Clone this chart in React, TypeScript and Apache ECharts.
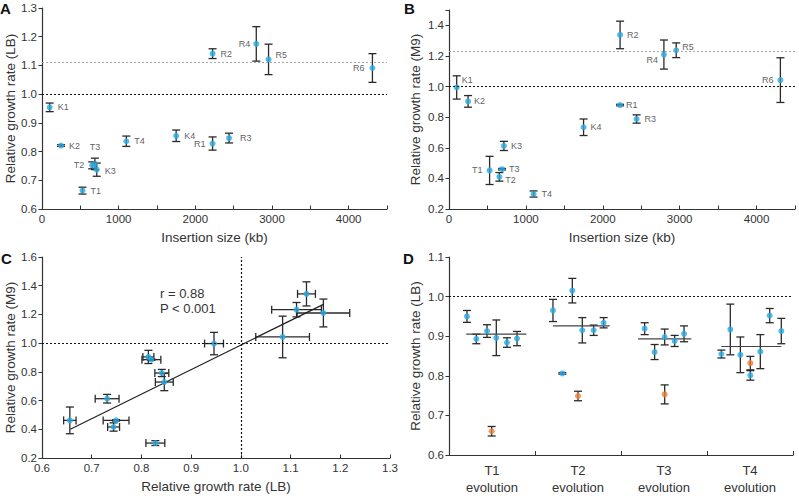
import React, { useEffect, useRef } from "react";
import * as echarts from "echarts";

// ---------- Panel A / B data ----------
const strains = ["K1", "K2", "K3", "K4", "T1", "T2", "T3", "T4", "R1", "R2", "R3", "R4", "R5", "R6"];
const insertionKb = [100, 248, 714, 1750, 528, 655, 690, 1100, 2225, 2225, 2440, 2795, 2955, 4310];
const lbRate = [0.954, 0.821, 0.737, 0.855, 0.664, 0.752, 0.757, 0.836, 0.828, 1.141, 0.847, 1.175, 1.121, 1.091];
const lbErr = [0.015, 0.003, 0.023, 0.02, 0.012, 0.012, 0.02, 0.018, 0.023, 0.017, 0.017, 0.06, 0.053, 0.05];
const m9Rate = [0.994, 0.903, 0.612, 0.734, 0.452, 0.41, 0.46, 0.298, 0.879, 1.337, 0.788, 1.209, 1.237, 1.042];
const m9Err = [0.076, 0.038, 0.03, 0.054, 0.092, 0.028, 0.005, 0.02, 0.005, 0.09, 0.027, 0.095, 0.048, 0.146];
const lbReference = 1.115;
const m9Reference = 1.226;

// ---------- Panel C data ----------
const cLB = [0.656, 0.731, 0.749, 0.744, 0.828, 0.814, 0.82, 0.841, 0.846, 0.946, 1.084, 1.112, 1.132, 1.166];
const cLBErr = [0.0125, 0.024, 0.026, 0.012, 0.019, 0.011, 0.019, 0.014, 0.018, 0.019, 0.054, 0.05, 0.018, 0.053];
const cM9 = [0.462, 0.613, 0.462, 0.416, 0.304, 0.904, 0.885, 0.792, 0.729, 0.997, 1.043, 1.233, 1.343, 1.21];
const cM9Err = [0.093, 0.03, 0.005, 0.029, 0.017, 0.046, 0.005, 0.025, 0.06, 0.078, 0.145, 0.05, 0.084, 0.097];
const fitX = [0.657, 1.167];
const fitY = [0.4, 1.272];
const corrText = ["r = 0.88", "P < 0.001"];

// ---------- Panel D data ----------
const dCategories = ["T1\nevolution", "T2\nevolution", "T3\nevolution", "T4\nevolution"];
const dBlueX = [0.209, 0.318, 0.442, 0.55, 0.674, 0.791, 1.209, 1.318, 1.434, 1.55, 1.682, 1.798, 2.275, 2.391, 2.508, 2.624, 2.733, 3.167, 3.271, 3.388, 3.504, 3.62, 3.729, 3.864];
const dBlueY = [0.95, 0.893, 0.913, 0.896, 0.884, 0.894, 0.965, 0.806, 1.015, 0.915, 0.915, 0.934, 0.919, 0.86, 0.898, 0.888, 0.906, 0.855, 0.917, 0.853, 0.801, 0.861, 0.952, 0.913];
const dBlueErr = [0.015, 0.012, 0.016, 0.045, 0.012, 0.018, 0.028, 0.002, 0.031, 0.032, 0.013, 0.013, 0.015, 0.019, 0.02, 0.014, 0.02, 0.01, 0.064, 0.045, 0.012, 0.043, 0.018, 0.032];
const dOrangeX = [0.496, 1.5, 2.508, 3.504];
const dOrangeY = [0.66, 0.749, 0.753, 0.832];
const dOrangeErr = [0.012, 0.012, 0.024, 0.017];
const dMeanStart = [0.2, 1.209, 2.198, 3.167];
const dMeanEnd = [0.9, 1.868, 2.818, 3.864];
const dMean = [0.905, 0.926, 0.893, 0.874];

// label placement (position, distance, dx, dy)
const labelPlaceA: Record<string, [string, number, number, number]> = {
  K1: ["right", 5, 0, 0], K2: ["right", 5, 0, 0], K3: ["right", 5, 0, 1], K4: ["right", 5, 0, 0],
  T1: ["right", 5, 0, 0], T2: ["left", 5, 0, 0], T3: ["top", 9, 0, 0], T4: ["right", 5, 0, 0],
  R1: ["left", 4, 0, 0], R2: ["right", 5, 0, 0], R3: ["right", 8, 0, 0], R4: ["left", 3, 0, 0],
  R5: ["right", 4, 0, -4], R6: ["left", 5, 0, 0],
};
const labelPlaceB: Record<string, [string, number, number, number]> = {
  K1: ["right", 2, 0, -7], K2: ["right", 3, 0, 0], K3: ["right", 4, 0, 0], K4: ["right", 4, 0, 0],
  T1: ["left", 4, 0, 0], T2: ["right", 3, 0, 3], T3: ["right", 4, 0, 0], T4: ["right", 5, 0, 0],
  R1: ["right", 3, 0, 0], R2: ["right", 4, 0, 0], R3: ["right", 5, 0, 0], R4: ["left", 3, 0, 5],
  R5: ["right", 3, 0, -3], R6: ["left", 4, 0, 0],
};

const BLUE = "#29a9e1";
const ORANGE = "#ef7d2c";
const BAR = "#2a2a2a";
const AXIS = "#333333";
const TEXT = "#333333";
const FONT = "'Liberation Sans', Arial, sans-serif";

function vErrRender(params: any, api: any) {
  const x = api.value(0);
  const a = api.coord([x, api.value(2)]);
  const b = api.coord([x, api.value(3)]);
  const c = 4;
  const st = { stroke: BAR, lineWidth: 1.3 };
  return {
    type: "group",
    children: [
      { type: "line", shape: { x1: a[0], y1: a[1], x2: b[0], y2: b[1] }, style: st },
      { type: "line", shape: { x1: a[0] - c, y1: a[1], x2: a[0] + c, y2: a[1] }, style: st },
      { type: "line", shape: { x1: b[0] - c, y1: b[1], x2: b[0] + c, y2: b[1] }, style: st },
    ],
  };
}

function xyErrRender(params: any, api: any) {
  const x = api.value(0);
  const y = api.value(1);
  const a = api.coord([x, api.value(4)]);
  const b = api.coord([x, api.value(5)]);
  const l = api.coord([api.value(2), y]);
  const r = api.coord([api.value(3), y]);
  const c = 4;
  const st = { stroke: BAR, lineWidth: 1.3 };
  return {
    type: "group",
    children: [
      { type: "line", shape: { x1: a[0], y1: a[1], x2: b[0], y2: b[1] }, style: st },
      { type: "line", shape: { x1: a[0] - c, y1: a[1], x2: a[0] + c, y2: a[1] }, style: st },
      { type: "line", shape: { x1: b[0] - c, y1: b[1], x2: b[0] + c, y2: b[1] }, style: st },
      { type: "line", shape: { x1: l[0], y1: l[1], x2: r[0], y2: r[1] }, style: st },
      { type: "line", shape: { x1: l[0], y1: l[1] - c, x2: l[0], y2: l[1] + c }, style: st },
      { type: "line", shape: { x1: r[0], y1: r[1] - c, x2: r[0], y2: r[1] + c }, style: st },
    ],
  };
}

function meanRender(params: any, api: any) {
  const y = api.value(2);
  const a = api.coord([api.value(0), y]);
  const b = api.coord([api.value(1), y]);
  return {
    type: "line",
    shape: { x1: a[0], y1: a[1], x2: b[0], y2: b[1] },
    style: { stroke: "#444", lineWidth: 1.2 },
  };
}

function valueAxis(gridIndex: number, min: number, max: number, interval: number, name: string, nameGap: number, fmt: (v: number) => string, isY: boolean) {
  return {
    type: "value",
    gridIndex,
    min,
    max,
    interval,
    name,
    nameLocation: "middle",
    nameGap,
    nameTextStyle: { fontSize: 13.5, color: TEXT, fontFamily: FONT },
    splitLine: { show: false },
    axisLine: { show: true, onZero: false, lineStyle: { color: AXIS, width: 1.2 } },
    axisTick: { show: true, inside: !isY, length: 3.5, lineStyle: { color: AXIS, width: 1 } },
    axisLabel: { fontSize: 11.5, color: TEXT, fontFamily: FONT, margin: isY ? 5 : 4, formatter: fmt },
  };
}

const fmt1 = (v: number) => v.toFixed(1);

export default function App() {
  const ref = useRef<HTMLDivElement>(null);
  useEffect(() => {
    if (!ref.current) return;
    const chart = echarts.init(ref.current, undefined, { renderer: "svg" });

    const pointLabel = (place: Record<string, [string, number, number, number]>, n: string) => ({
      show: true,
      formatter: "{b}",
      position: place[n][0],
      distance: place[n][1],
      offset: [place[n][2], place[n][3]],
      fontSize: 9,
      color: TEXT,
      fontFamily: FONT,
    });

    const refLines = (vals: any[]) => ({
      silent: true,
      symbol: ["none", "none"],
      label: { show: false },
      data: vals,
    });

    const option: any = {
      animation: false,
      textStyle: { fontFamily: FONT },
      grid: [
        { left: 42, top: 8, width: 345, height: 201 },
        { left: 449, top: 10, width: 346, height: 199 },
        { left: 42, top: 257, width: 348, height: 201 },
        { left: 449, top: 257, width: 344, height: 201 },
      ],
      xAxis: [
        valueAxis(0, 0, 4500, 500, "Insertion size (kb)", 21, (v) => (v % 1000 === 0 ? String(v) : ""), false),
        valueAxis(1, 0, 4500, 500, "Insertion size (kb)", 21, (v) => (v % 1000 === 0 ? String(v) : ""), false),
        valueAxis(2, 0.6, 1.3, 0.1, "Relative growth rate (LB)", 21, fmt1, false),
        {
          type: "category",
          gridIndex: 3,
          data: dCategories,
          boundaryGap: true,
          axisLine: { show: true, lineStyle: { color: AXIS, width: 1.2 } },
          axisTick: { show: true, inside: true, length: 4, alignWithLabel: false, lineStyle: { color: AXIS } },
          axisLabel: { fontSize: 13, color: TEXT, fontFamily: FONT, margin: 7, lineHeight: 17 },
          splitLine: { show: false },
        },
        { type: "value", gridIndex: 3, min: 0, max: 4, show: false },
      ],
      yAxis: [
        valueAxis(0, 0.6, 1.3, 0.1, "Relative growth rate (LB)", 25, fmt1, true),
        valueAxis(1, 0.2, 1.5, 0.2, "Relative growth rate (M9)", 27, (v) => (Math.abs(v - 1.5) < 1e-6 ? "" : v.toFixed(1)), true),
        valueAxis(2, 0.2, 1.6, 0.2, "Relative growth rate (M9)", 25, fmt1, true),
        valueAxis(3, 0.6, 1.1, 0.1, "Relative growth rate (LB)", 27, fmt1, true),
      ],
      series: [
        // ---- A ----
        {
          type: "custom",
          xAxisIndex: 0,
          yAxisIndex: 0,
          renderItem: vErrRender,
          data: strains.map((_, i) => [insertionKb[i], lbRate[i], lbRate[i] - lbErr[i], lbRate[i] + lbErr[i]]),
          z: 2,
          markLine: refLines([
            { yAxis: 1.0, lineStyle: { color: "#111", type: [2, 2], width: 1.2 } },
            { yAxis: lbReference, lineStyle: { color: "#a8a8a8", type: [2, 2], width: 1 } },
          ]),
        },
        {
          type: "scatter",
          xAxisIndex: 0,
          yAxisIndex: 0,
          symbolSize: 6,
          itemStyle: { color: BLUE },
          z: 3,
          data: strains.map((n, i) => ({ name: n, value: [insertionKb[i], lbRate[i]], label: pointLabel(labelPlaceA, n) })),
        },
        // ---- B ----
        {
          type: "custom",
          xAxisIndex: 1,
          yAxisIndex: 1,
          renderItem: vErrRender,
          data: strains.map((_, i) => [insertionKb[i], m9Rate[i], m9Rate[i] - m9Err[i], m9Rate[i] + m9Err[i]]),
          z: 2,
          markLine: refLines([
            { yAxis: 1.0, lineStyle: { color: "#111", type: [2, 2], width: 1.2 } },
            { yAxis: m9Reference, lineStyle: { color: "#a8a8a8", type: [2, 2], width: 1 } },
          ]),
        },
        {
          type: "scatter",
          xAxisIndex: 1,
          yAxisIndex: 1,
          symbolSize: 6,
          itemStyle: { color: BLUE },
          z: 3,
          data: strains.map((n, i) => ({ name: n, value: [insertionKb[i], m9Rate[i]], label: pointLabel(labelPlaceB, n) })),
        },
        // ---- C ----
        {
          type: "custom",
          xAxisIndex: 2,
          yAxisIndex: 2,
          renderItem: xyErrRender,
          data: cLB.map((x, i) => [x, cM9[i], x - cLBErr[i], x + cLBErr[i], cM9[i] - cM9Err[i], cM9[i] + cM9Err[i]]),
          z: 2,
          markLine: refLines([
            { yAxis: 1.0, lineStyle: { color: "#111", type: [2, 2], width: 1.2 } },
            { xAxis: 1.0, lineStyle: { color: "#111", type: [2, 2], width: 1.2 } },
          ]),
        },
        {
          type: "line",
          xAxisIndex: 2,
          yAxisIndex: 2,
          data: fitX.map((x, i) => [x, fitY[i]]),
          symbol: "none",
          lineStyle: { color: "#222", width: 1.3 },
          z: 2,
        },
        {
          type: "scatter",
          xAxisIndex: 2,
          yAxisIndex: 2,
          symbolSize: 6,
          itemStyle: { color: BLUE },
          z: 3,
          data: cLB.map((x, i) => [x, cM9[i]]),
        },
        // ---- D ----
        {
          type: "custom",
          xAxisIndex: 4,
          yAxisIndex: 3,
          renderItem: vErrRender,
          data: dBlueX.map((x, i) => [x, dBlueY[i], dBlueY[i] - dBlueErr[i], dBlueY[i] + dBlueErr[i]]).concat(
            dOrangeX.map((x, i) => [x, dOrangeY[i], dOrangeY[i] - dOrangeErr[i], dOrangeY[i] + dOrangeErr[i]])
          ),
          z: 2,
          markLine: refLines([{ yAxis: 1.0, lineStyle: { color: "#111", type: [2, 2], width: 1.2 } }]),
        },
        {
          type: "custom",
          xAxisIndex: 4,
          yAxisIndex: 3,
          renderItem: meanRender,
          data: dMean.map((m, i) => [dMeanStart[i], dMeanEnd[i], m]),
          z: 2,
        },
        {
          type: "scatter",
          xAxisIndex: 4,
          yAxisIndex: 3,
          symbolSize: 6,
          itemStyle: { color: BLUE },
          z: 3,
          data: dBlueX.map((x, i) => [x, dBlueY[i]]),
        },
        {
          type: "scatter",
          xAxisIndex: 4,
          yAxisIndex: 3,
          symbolSize: 6,
          itemStyle: { color: ORANGE },
          z: 3,
          data: dOrangeX.map((x, i) => [x, dOrangeY[i]]),
        },
      ],
      graphic: [
        { type: "text", left: 0, top: 1, style: { text: "A", font: `bold 15px ${FONT}`, fill: "#111" } },
        { type: "text", left: 404, top: 1, style: { text: "B", font: `bold 15px ${FONT}`, fill: "#111" } },
        { type: "text", left: 1, top: 251, style: { text: "C", font: `bold 15px ${FONT}`, fill: "#111" } },
        { type: "text", left: 403, top: 251, style: { text: "D", font: `bold 15px ${FONT}`, fill: "#111" } },
        { type: "text", left: 160, top: 287, style: { text: corrText[0], font: `13px ${FONT}`, fill: TEXT } },
        { type: "text", left: 160, top: 302, style: { text: corrText[1], font: `13px ${FONT}`, fill: TEXT } },
      ],
    };
    chart.setOption(option);
    return () => chart.dispose();
  }, []);
  return (
    <div
      ref={ref}
      style={{ position: "fixed", left: 0, top: 0, width: 799, height: 496, background: "#fff" }}
    />
  );
}
